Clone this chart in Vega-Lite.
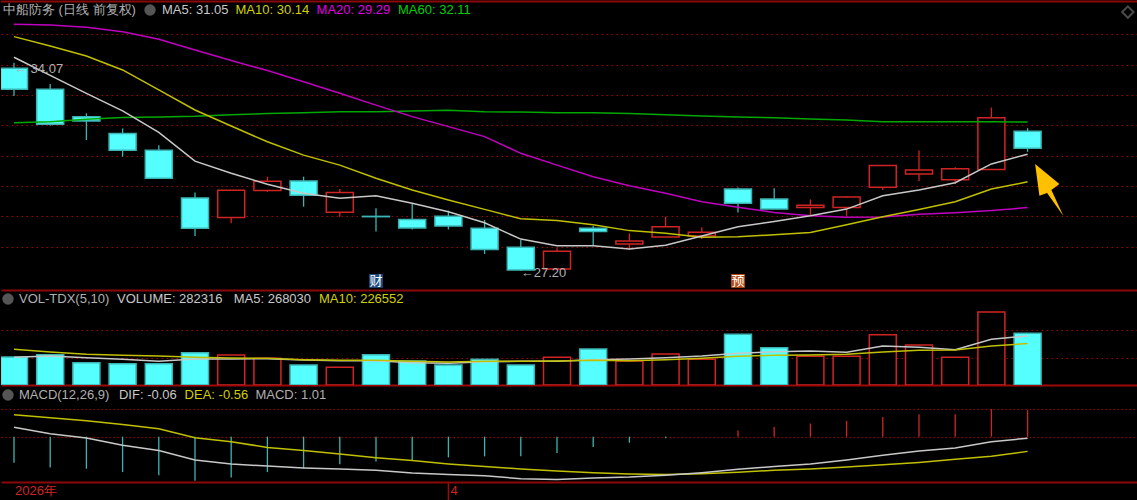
{"$schema":"https://vega.github.io/schema/vega-lite/v6.json","background":"#000000","padding":0,"spacing":0,"bounds":"flush","config":{"view":{"stroke":null},"concat":{"spacing":0},"text":{"font":"Liberation Sans"}},
"datasets":{"days":[
{"i":0,"dir":"down","open":33.89,"close":33.19,"high":34.07,"low":32.97,"ma5":34.25,"ma10":34.93,"ma20":35.34,"ma60":32.09,"vol":152880,"vma5":151060,"vma10":194740,"macd":-0.99,"dif":0.36,"dea":0.84},
{"i":1,"dir":"down","open":33.19,"close":32.04,"high":33.37,"low":31.99,"ma5":33.65,"ma10":34.62,"ma20":35.31,"ma60":32.12,"vol":165620,"vma5":158340,"vma10":180180,"macd":-1.17,"dif":0.11,"dea":0.72},
{"i":2,"dir":"down","open":32.29,"close":32.15,"high":32.40,"low":31.52,"ma5":33.06,"ma10":34.29,"ma20":35.24,"ma60":32.20,"vol":121940,"vma5":149240,"vma10":167440,"macd":-1.22,"dif":-0.05,"dea":0.61},
{"i":3,"dir":"down","open":31.73,"close":31.18,"high":31.90,"low":30.97,"ma5":32.48,"ma10":33.83,"ma20":35.09,"ma60":32.26,"vol":116480,"vma5":140140,"vma10":161980,"macd":-1.35,"dif":-0.33,"dea":0.46},
{"i":4,"dir":"down","open":31.18,"close":30.26,"high":31.35,"low":30.26,"ma5":31.77,"ma10":33.17,"ma20":34.84,"ma60":32.28,"vol":116480,"vma5":129220,"vma10":158340,"macd":-1.47,"dif":-0.53,"dea":0.30},
{"i":5,"dir":"down","open":29.61,"close":28.61,"high":29.79,"low":28.35,"ma5":30.82,"ma10":32.51,"ma20":34.49,"ma60":32.30,"vol":176540,"vma5":141960,"vma10":151060,"macd":-1.68,"dif":-0.89,"dea":-0.04},
{"i":6,"dir":"up","open":28.96,"close":29.86,"high":29.86,"low":28.77,"ma5":30.42,"ma10":31.98,"ma20":34.14,"ma60":32.35,"vol":163800,"vma5":141960,"vma10":147420,"macd":-1.56,"dif":-1.04,"dea":-0.19},
{"i":7,"dir":"up","open":29.85,"close":30.16,"high":30.31,"low":29.81,"ma5":30.06,"ma10":31.46,"ma20":33.81,"ma60":32.39,"vol":145600,"vma5":143780,"vma10":145600,"macd":-1.35,"dif":-1.12,"dea":-0.41},
{"i":8,"dir":"down","open":30.17,"close":29.70,"high":30.31,"low":29.32,"ma5":29.76,"ma10":31.02,"ma20":33.44,"ma60":32.42,"vol":109200,"vma5":136500,"vma10":138320,"macd":-1.21,"dif":-1.19,"dea":-0.53},
{"i":9,"dir":"up","open":29.14,"close":29.79,"high":29.90,"low":28.99,"ma5":29.60,"ma10":30.69,"ma20":33.06,"ma60":32.45,"vol":96460,"vma5":132860,"vma10":134680,"macd":-1.05,"dif":-1.23,"dea":-0.66},
{"i":10,"dir":"down","open":29.00,"close":28.99,"high":29.27,"low":28.50,"ma5":29.68,"ma10":30.26,"ma20":32.67,"ma60":32.45,"vol":165620,"vma5":132860,"vma10":134680,"macd":-0.95,"dif":-1.28,"dea":-0.80},
{"i":11,"dir":"down","open":28.90,"close":28.62,"high":29.41,"low":28.57,"ma5":29.43,"ma10":29.87,"ma20":32.29,"ma60":32.48,"vol":131040,"vma5":121940,"vma10":129220,"macd":-0.91,"dif":-1.38,"dea":-0.91},
{"i":12,"dir":"down","open":29.00,"close":28.68,"high":29.19,"low":28.57,"ma5":29.15,"ma10":29.54,"ma20":31.96,"ma60":32.50,"vol":109200,"vma5":118300,"vma10":125580,"macd":-0.79,"dif":-1.44,"dea":-1.04},
{"i":13,"dir":"down","open":28.61,"close":27.91,"high":28.88,"low":27.76,"ma5":28.79,"ma10":29.23,"ma20":31.63,"ma60":32.45,"vol":140140,"vma5":127400,"vma10":129220,"macd":-0.75,"dif":-1.49,"dea":-1.14},
{"i":14,"dir":"down","open":27.98,"close":27.23,"high":28.22,"low":27.20,"ma5":28.25,"ma10":28.92,"ma20":31.08,"ma60":32.44,"vol":109200,"vma5":129220,"vma10":129220,"macd":-0.75,"dif":-1.60,"dea":-1.23},
{"i":15,"dir":"up","open":27.26,"close":27.85,"high":27.95,"low":27.22,"ma5":28.03,"ma10":28.86,"ma20":30.69,"ma60":32.42,"vol":151060,"vma5":129220,"vma10":131040,"macd":-0.62,"dif":-1.63,"dea":-1.31},
{"i":16,"dir":"down","open":28.61,"close":28.50,"high":28.68,"low":28.02,"ma5":28.03,"ma10":28.72,"ma20":30.31,"ma60":32.42,"vol":196560,"vma5":138320,"vma10":134680,"macd":-0.39,"dif":-1.57,"dea":-1.37},
{"i":17,"dir":"up","open":28.09,"close":28.19,"high":28.44,"low":27.89,"ma5":27.92,"ma10":28.53,"ma20":30.01,"ma60":32.39,"vol":131040,"vma5":141960,"vma10":132860,"macd":-0.23,"dif":-1.54,"dea":-1.42},
{"i":18,"dir":"up","open":28.32,"close":28.66,"high":28.99,"low":28.32,"ma5":28.05,"ma10":28.44,"ma20":29.76,"ma60":32.35,"vol":169260,"vma5":149240,"vma10":138320,"macd":-0.06,"dif":-1.47,"dea":-1.44},
{"i":19,"dir":"up","open":28.35,"close":28.48,"high":28.64,"low":28.25,"ma5":28.35,"ma10":28.31,"ma20":29.48,"ma60":32.31,"vol":140140,"vma5":158340,"vma10":145600,"macd":0,"dif":-1.37,"dea":-1.41},
{"i":20,"dir":"down","open":29.90,"close":29.43,"high":29.95,"low":29.13,"ma5":28.66,"ma10":28.33,"ma20":29.30,"ma60":32.28,"vol":276640,"vma5":172900,"vma10":156520,"macd":0.24,"dif":-1.24,"dea":-1.36},
{"i":21,"dir":"down","open":29.57,"close":29.24,"high":29.93,"low":29.24,"ma5":28.83,"ma10":28.39,"ma20":29.13,"ma60":32.25,"vol":203840,"vma5":182000,"vma10":161980,"macd":0.37,"dif":-1.14,"dea":-1.28},
{"i":22,"dir":"up","open":29.29,"close":29.37,"high":29.56,"low":29.04,"ma5":29.02,"ma10":28.47,"ma20":29.02,"ma60":32.21,"vol":156520,"vma5":185640,"vma10":163800,"macd":0.50,"dif":-1.04,"dea":-1.23},
{"i":23,"dir":"up","open":29.29,"close":29.64,"high":29.67,"low":29.02,"ma5":29.24,"ma10":28.72,"ma20":28.97,"ma60":32.18,"vol":156520,"vma5":178360,"vma10":167440,"macd":0.60,"dif":-0.89,"dea":-1.16},
{"i":24,"dir":"up","open":29.96,"close":30.68,"high":30.68,"low":29.87,"ma5":29.68,"ma10":28.99,"ma20":28.98,"ma60":32.12,"vol":274820,"vma5":212940,"vma10":180180,"macd":0.75,"dif":-0.71,"dea":-1.07},
{"i":25,"dir":"up","open":30.40,"close":30.53,"high":31.17,"low":30.17,"ma5":29.87,"ma10":29.23,"ma20":29.07,"ma60":32.12,"vol":218400,"vma5":205660,"vma10":189280,"macd":0.85,"dif":-0.55,"dea":-0.98},
{"i":26,"dir":"up","open":30.21,"close":30.57,"high":30.62,"low":30.07,"ma5":30.11,"ma10":29.48,"ma20":29.12,"ma60":32.12,"vol":151060,"vma5":192920,"vma10":191100,"macd":0.85,"dif":-0.43,"dea":-0.86},
{"i":27,"dir":"up","open":30.55,"close":32.25,"high":32.59,"low":30.55,"ma5":30.73,"ma10":29.90,"ma20":29.19,"ma60":32.12,"vol":398580,"vma5":249340,"vma10":212940,"macd":1.05,"dif":-0.19,"dea":-0.75},
{"i":28,"dir":"down","open":31.81,"close":31.25,"high":31.91,"low":31.13,"ma5":31.05,"ma10":30.14,"ma20":29.29,"ma60":32.11,"vol":282316,"vma5":268030,"vma10":226552,"macd":1.01,"dif":-0.06,"dea":-0.56}
]},
"vconcat":[
{"width":1137,"height":290,
"encoding":{"x":{"field":"i","type":"quantitative","scale":{"domain":[-0.359,31.05],"nice":false,"zero":false,"padding":0},"axis":{"orient":"bottom","title":null,"labels":false,"ticks":false,"grid":false,"domainColor":"#8c0808","domainWidth":2}}},
"resolve":{"scale":{"color":"independent"}},
"layer":[
{"data":{"name":"days"},"mark":{"type":"rule","opacity":0},"encoding":{"y":{"field":"high","type":"quantitative","scale":{"domain":[26.571,36.138],"nice":false,"zero":false},"axis":{"values":[28,29,30,31,32,33,34,35],"title":null,"labels":false,"ticks":false,"domain":false,"grid":true,"gridColor":"#a80000","gridDash":[1.5,3.5],"gridWidth":1}}}},
{"data":{"values":[{"p":36.09}]},"mark":{"type":"rule","color":"#8c0808","strokeWidth":2},"encoding":{"x":{},"y":{"field":"p","type":"quantitative"}}},
{"data":{"name":"days"},"mark":{"type":"rule","strokeWidth":1.3},"encoding":{"y":{"field":"high","type":"quantitative"},"y2":{"field":"low"},"stroke":{"field":"dir","type":"nominal","scale":{"domain":["up","down"],"range":["#d02424","#3cb4b4"]},"legend":null}}},
{"data":{"name":"days"},"mark":{"type":"bar","size":27,"strokeWidth":1.5,"clip":true},"encoding":{"y":{"field":"open","type":"quantitative"},"y2":{"field":"close"},"fill":{"field":"dir","type":"nominal","scale":{"domain":["up","down"],"range":["#000000","#55FFFF"]},"legend":null},"stroke":{"field":"dir","type":"nominal","legend":null}}},
{"data":{"name":"days"},"mark":{"type":"line","color":"#00a800","strokeWidth":1.5},"encoding":{"y":{"field":"ma60","type":"quantitative"}}},
{"data":{"name":"days"},"mark":{"type":"line","color":"#c000c0","strokeWidth":1.5},"encoding":{"y":{"field":"ma20","type":"quantitative"}}},
{"data":{"name":"days"},"mark":{"type":"line","color":"#c0c000","strokeWidth":1.5},"encoding":{"y":{"field":"ma10","type":"quantitative"}}},
{"data":{"name":"days"},"mark":{"type":"line","color":"#c8c8c8","strokeWidth":1.5},"encoding":{"y":{"field":"ma5","type":"quantitative"}}},
{"data":{"values":[{"i":10,"price":26.87,"kind":"财"},{"i":20,"price":26.87,"kind":"预"}]},"mark":{"type":"point","shape":"square","filled":true,"size":190,"opacity":1},"encoding":{"y":{"field":"price","type":"quantitative"},"color":{"field":"kind","type":"nominal","scale":{"domain":["财","预"],"range":["#1d4b80","#b84e17"]},"legend":null}}},
{"data":{"values":[{"i":10,"price":26.87,"label":"财"},{"i":20,"price":26.87,"label":"预"}]},"mark":{"type":"text","fontSize":13,"color":"#ffffff","font":"Noto Sans CJK SC"},"encoding":{"y":{"field":"price","type":"quantitative"},"text":{"field":"label"}}},
{"data":{"values":[{"i":3.757,"price":35.81}]},"mark":{"type":"point","shape":"circle","filled":true,"color":"#555555","size":130,"opacity":1},"encoding":{"y":{"field":"price","type":"quantitative"}}},
{"data":{"values":[{"i":30.77,"price":35.74}]},"mark":{"type":"point","shape":"diamond","filled":false,"color":"#4a4a4a","size":130,"opacity":1},"encoding":{"y":{"field":"price","type":"quantitative"}}},
{"data":{"values":[{"i":28.6,"price":29.87}]},"mark":{"type":"point","shape":"M-0.536,-0.981L0.381,-0.226L0.079,0L0.532,0.981L-0.083,0.113L-0.374,0.215Z","filled":true,"color":"#FFC000","size":2809,"opacity":1},"encoding":{"y":{"field":"price","type":"quantitative"}}},
{"data":{"values":[
{"i":-0.304,"price":35.81,"label":"中船防务 (日线 前复权)","series":"grey"},
{"i":4.088,"price":35.81,"label":"MA5: 31.05","series":"ma5"},
{"i":6.119,"price":35.81,"label":"MA10: 30.14","series":"ma10"},
{"i":8.359,"price":35.81,"label":"MA20: 29.29","series":"ma20"},
{"i":10.608,"price":35.81,"label":"MA60: 32.11","series":"ma60"},
{"i":0,"price":33.86,"label":"← 34.07","series":"grey"},
{"i":14,"price":27.12,"label":"←27.20","series":"grey"}
]},"mark":{"type":"text","align":"left","baseline":"middle","fontSize":13},"encoding":{"y":{"field":"price","type":"quantitative"},"text":{"field":"label"},"color":{"field":"series","type":"nominal","scale":{"domain":["grey","ma5","ma10","ma20","ma60"],"range":["#b0b0b0","#c8c8c8","#d0d000","#e000e0","#00d000"]},"legend":null}}}
]},
{"width":1137,"height":95,
"encoding":{"x":{"field":"i","type":"quantitative","scale":{"domain":[-0.359,31.05],"nice":false,"zero":false,"padding":0},"axis":{"orient":"bottom","title":null,"labels":false,"ticks":false,"grid":false,"domainColor":"#a00808","domainWidth":2}}},
"layer":[
{"data":{"name":"days"},"mark":{"type":"bar","size":27,"strokeWidth":1.5,"clip":true},"encoding":{"y":{"field":"vol","type":"quantitative","scale":{"domain":[0,518700],"nice":false},"axis":{"values":[150000,300000],"title":null,"labels":false,"ticks":false,"domain":false,"grid":true,"gridColor":"#a80000","gridDash":[1.5,3.5],"gridWidth":1}},"fill":{"field":"dir","type":"nominal","scale":{"domain":["up","down"],"range":["#000000","#55FFFF"]},"legend":null},"stroke":{"field":"dir","type":"nominal","scale":{"domain":["up","down"],"range":["#d02424","#3cb4b4"]},"legend":null}}},
{"data":{"name":"days"},"mark":{"type":"line","color":"#c8c8c8","strokeWidth":1.5},"encoding":{"y":{"field":"vma5","type":"quantitative"}}},
{"data":{"name":"days"},"mark":{"type":"line","color":"#c0c000","strokeWidth":1.5},"encoding":{"y":{"field":"vma10","type":"quantitative"}}},
{"data":{"values":[{"i":-0.166,"v":469560}]},"mark":{"type":"point","shape":"circle","filled":true,"color":"#555555","size":130,"opacity":1},"encoding":{"y":{"field":"v","type":"quantitative"}}},
{"data":{"values":[
{"i":0.138,"v":469560,"label":"VOL-TDX(5,10)","series":"grey"},
{"i":2.845,"v":469560,"label":"VOLUME: 282316","series":"white"},
{"i":6.07,"v":469560,"label":"MA5: 268030","series":"white"},
{"i":8.425,"v":469560,"label":"MA10: 226552","series":"yellow"}
]},"mark":{"type":"text","align":"left","baseline":"middle","fontSize":13},"encoding":{"y":{"field":"v","type":"quantitative"},"text":{"field":"label"},"color":{"field":"series","type":"nominal","scale":{"domain":["grey","white","yellow"],"range":["#b0b0b0","#c8c8c8","#d0d000"]},"legend":null}}}
]},
{"width":1137,"height":97,
"encoding":{"x":{"field":"i","type":"quantitative","scale":{"domain":[-0.359,31.05],"nice":false,"zero":false,"padding":0},"axis":{"orient":"bottom","title":null,"labels":false,"ticks":false,"grid":false,"domainColor":"#8c0808","domainWidth":2}}},
"layer":[
{"data":{"name":"days"},"mark":{"type":"rule","strokeWidth":1.3},"encoding":{"y":{"field":"macd","type":"quantitative","scale":{"domain":[-1.727,1.969],"nice":false,"zero":false},"axis":{"values":[0,1.05],"title":null,"labels":false,"ticks":false,"domain":false,"grid":true,"gridColor":"#a80000","gridDash":[1.5,2.5],"gridWidth":1}},"y2":{"datum":0},"color":{"condition":{"test":"datum.macd<0","value":"#3cb4b4"},"value":"#d02424"}}},
{"data":{"name":"days"},"mark":{"type":"line","color":"#c0c000","strokeWidth":1.5},"encoding":{"y":{"field":"dea","type":"quantitative"}}},
{"data":{"name":"days"},"mark":{"type":"line","color":"#c8c8c8","strokeWidth":1.5},"encoding":{"y":{"field":"dif","type":"quantitative"}}},
{"data":{"values":[{"i":-0.166,"m":1.59}]},"mark":{"type":"point","shape":"circle","filled":true,"color":"#555555","size":130,"opacity":1},"encoding":{"y":{"field":"m","type":"quantitative"}}},
{"data":{"values":[
{"i":0.138,"m":1.59,"label":"MACD(12,26,9)","series":"grey"},
{"i":2.9,"m":1.59,"label":"DIF: -0.06","series":"white"},
{"i":4.713,"m":1.59,"label":"DEA: -0.56","series":"yellow"},
{"i":6.67,"m":1.59,"label":"MACD: 1.01","series":"magenta"}
]},"mark":{"type":"text","align":"left","baseline":"middle","fontSize":13},"encoding":{"y":{"field":"m","type":"quantitative"},"text":{"field":"label"},"color":{"field":"series","type":"nominal","scale":{"domain":["grey","white","yellow","magenta"],"range":["#b0b0b0","#c8c8c8","#d0d000","#e000e0"]},"legend":null}}}
]},
{"width":1137,"height":18,
"encoding":{"x":{"field":"i","type":"quantitative","scale":{"domain":[-0.359,31.05],"nice":false,"zero":false,"padding":0},"axis":null}},
"layer":[
{"data":{"values":[{"i":12}]},"mark":{"type":"rule","color":"#a00808","strokeWidth":1.5},"encoding":{}},
{"data":{"values":[{"i":0.03,"label":"2026年"},{"i":12.06,"label":"4"}]},"mark":{"type":"text","align":"left","baseline":"middle","fontSize":13,"color":"#d02424"},"encoding":{"text":{"field":"label"}}}
]}
]}
